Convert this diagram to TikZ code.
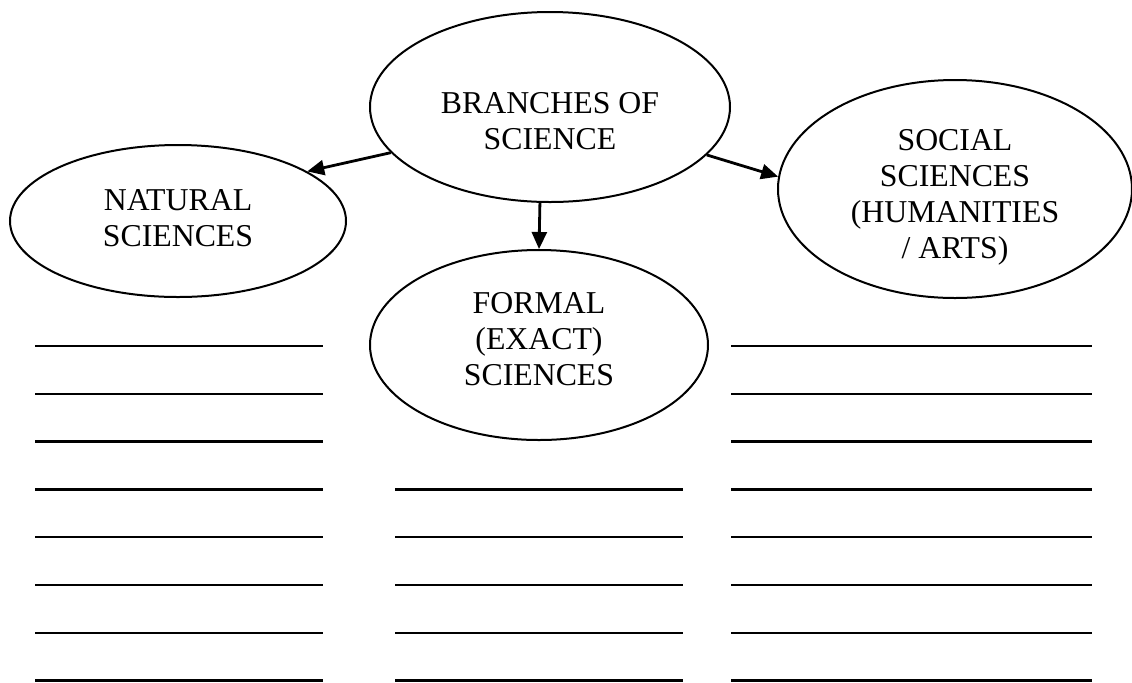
\documentclass[tikz,border=0pt]{standalone}
\usepackage{fontspec}
\setmainfont{Liberation Serif}
\usetikzlibrary{shapes.geometric,arrows.meta}
\tikzset{
  txt/.style={align=center, font=\fontsize{15.9pt}{18pt}\selectfont},
  bubble/.style={draw, ellipse, inner sep=0pt, line width=1pt},
  link/.style={-{Triangle[length=8.5pt,width=7.5pt]}, line width=1.4pt},
  blank/.style={line width=1.2pt}
}
\begin{document}
\begin{tikzpicture}[x=0.5pt,y=-0.5pt]
  \useasboundingbox (0,0) rectangle (1132,682);
  % ellipses
  \node[bubble, minimum width=180pt, minimum height=95pt,
        label={[txt, yshift=-7pt]center:{BRANCHES OF\\SCIENCE}}] (branches) at (550,107) {};
  \node[bubble, minimum width=168pt, minimum height=76pt,
        label={[txt, yshift=1.5pt]center:{NATURAL\\SCIENCES}}] (natural) at (178,221) {};
  \node[bubble, minimum width=169pt, minimum height=95pt,
        label={[txt, yshift=3pt]center:{FORMAL\\(EXACT)\\SCIENCES}}] (formal) at (539,345) {};
  \node[bubble, minimum width=177pt, minimum height=109pt,
        label={[txt, yshift=-4pt]center:{SOCIAL\\SCIENCES\\(HUMANITIES\\/ ARTS)}}] (social) at (955,189) {};
  % arrows
  \draw[link] (branches.196) -- (natural.21);
  \draw[link] (branches.264) -- (formal.north);
  \draw[link] (branches.343) -- (social.176);
  % answer lines
  \foreach \k in {0,...,7} {
    \draw[blank] (35,{346+47.8*\k}) -- (323,{346+47.8*\k});
    \draw[blank] (731,{346+47.8*\k}) -- (1092,{346+47.8*\k});
  }
  \foreach \k in {3,...,7}
    \draw[blank] (395,{346+47.8*\k}) -- (683,{346+47.8*\k});
\end{tikzpicture}
\end{document}
